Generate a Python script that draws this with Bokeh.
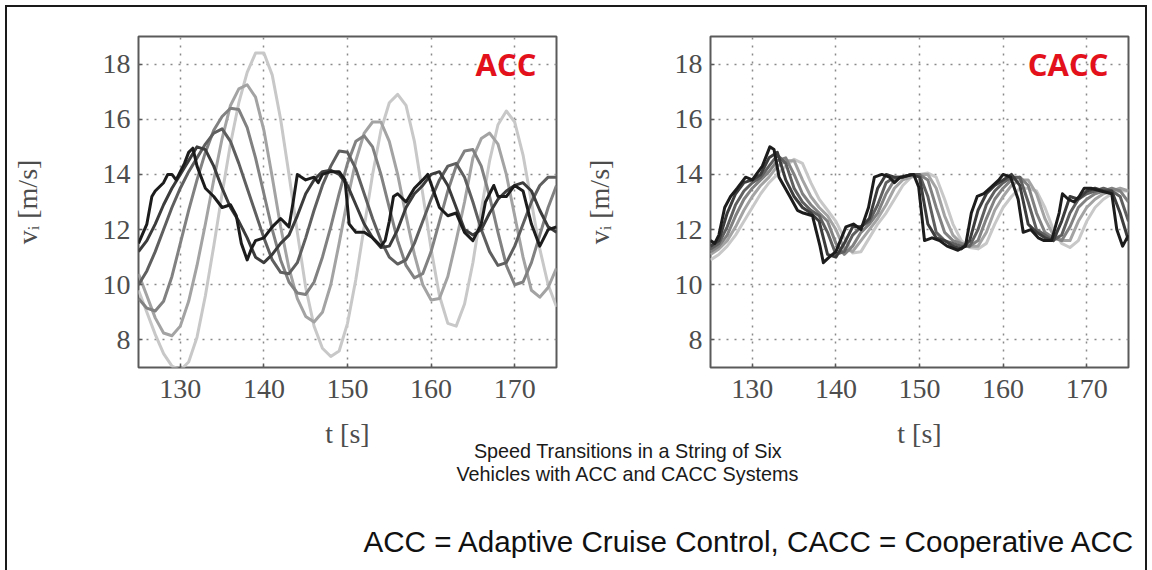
from bokeh.plotting import figure
from bokeh.layouts import row, column
from bokeh.models import Label, Range1d, FixedTicker
from bokeh.embed import file_html
from bokeh.resources import INLINE

# ---------------- data ----------------
x_ticks = [130, 140, 150, 160, 170]
y_ticks = [8, 10, 12, 14, 16, 18]

# ACC: leader (jagged) with its own sample times
acc_lead_t = [125, 126, 126.6, 127, 128, 128.5, 129, 129.5, 130, 130.5,
              131, 131.5, 132, 133, 134, 135, 136, 136.7, 137.3, 138,
              138.5, 139, 140, 141, 142, 143, 143.5, 144, 145, 146,
              146.5, 147, 148, 149, 149.7, 150.2, 151, 152, 153, 154,
              154.5, 155, 155.5, 156, 157, 158, 159, 159.6, 160.3, 161,
              162, 163, 164, 165, 166, 166.5, 167.5, 168, 169, 170,
              171, 172, 173, 174, 175]
acc_lead_v = [11.5, 12.2, 13.2, 13.4, 13.7, 14.0, 14.0, 13.8, 14.1, 14.4,
              14.8, 14.95, 14.3, 13.5, 13.2, 12.8, 12.9, 12.5, 11.5, 10.9,
              11.3, 11.6, 11.7, 12.1, 12.4, 12.1, 13.0, 14.0, 13.8, 13.9,
              13.7, 14.0, 14.1, 14.1, 13.8, 12.2, 11.9, 11.9, 11.7, 11.4,
              11.6, 12.3, 13.2, 13.3, 13.0, 13.5, 13.8, 14.0, 13.4, 12.8,
              12.5, 12.6, 11.9, 11.6, 12.2, 13.0, 13.6, 13.2, 13.2, 13.6,
              13.4, 12.2, 11.4, 12.0, 12.1]

# followers sampled each second from 125 s to 175 s
acc_t = list(range(125, 176))
acc_v2 = [11.2, 11.6, 12.2, 12.9, 13.5, 14.0, 14.5, 15.0, 14.9, 14.3,
          13.5, 12.8, 12.3, 11.7, 11.0, 10.8, 11.1, 11.5, 11.8, 12.5,
          13.3, 13.8, 14.1, 14.15, 14.0, 13.6, 12.9, 12.2, 11.7, 11.35,
          11.4, 12.0, 12.8, 13.3, 13.6, 14.0, 14.1, 13.6, 12.8, 12.0,
          11.8, 12.0, 12.6, 13.1, 13.4, 13.6, 13.7, 13.4, 12.7, 12.1,
          11.9]
acc_v3 = [10.0, 10.5, 11.2, 12.0, 12.8, 13.5, 14.1, 14.6, 15.1, 15.5,
          15.65, 15.2, 14.4, 13.5, 12.6, 11.7, 10.9, 10.45, 10.4, 10.8,
          11.7, 12.7, 13.6, 14.3, 14.85, 14.8, 14.2, 13.3, 12.4, 11.6,
          11.0, 10.75, 10.9, 11.5, 12.3, 13.1, 13.8, 14.3, 14.4, 13.9,
          13.0, 12.0, 11.2, 10.7, 10.8, 11.4, 12.2, 13.0, 13.6, 13.9,
          13.9]
acc_v4 = [9.5, 9.15, 9.05, 9.4, 10.3, 11.5, 12.7, 13.8, 14.8, 15.6,
          16.1, 16.4, 16.35, 15.7, 14.6, 13.3, 12.0, 10.9, 10.1, 9.7,
          9.65, 10.1, 11.0, 12.1, 13.3, 14.4, 15.2, 15.4, 15.0, 14.0,
          12.8, 11.6, 10.7, 10.25, 10.4, 11.2, 12.3, 13.4, 14.3, 14.85,
          14.9, 14.3, 13.2, 11.9, 10.7, 10.0, 10.1, 10.8, 11.8, 12.8,
          13.6]
acc_v5 = [10.4, 9.6, 8.8, 8.25, 8.15, 8.5, 9.4, 10.7, 12.2, 13.8,
          15.3, 16.5, 17.1, 17.25, 16.8, 15.6, 13.9, 12.1, 10.6, 9.5,
          8.85, 8.65, 9.0, 10.0, 11.5, 13.1, 14.5, 15.5, 15.9, 15.9,
          15.2, 14.0, 12.5, 11.1, 10.0, 9.45, 9.5, 10.3, 11.6, 13.0,
          14.6, 15.3, 15.5, 15.1, 14.0, 12.5, 11.0, 9.8, 9.55, 9.9,
          10.6]
acc_v6 = [9.8, 9.0, 8.2, 7.5, 7.05, 6.9, 7.2, 8.1, 9.6, 11.4,
          13.3, 15.1, 16.6, 17.7, 18.4, 18.4, 17.6, 16.0, 14.0, 11.9,
          9.9, 8.5, 7.7, 7.4, 7.6, 8.6, 10.2, 12.1, 14.0, 15.6,
          16.6, 16.9, 16.5, 15.2, 13.3, 11.3, 9.6, 8.6, 8.5, 9.3,
          10.8, 12.7, 14.5, 15.8, 16.3, 15.9, 14.7, 13.0, 11.3, 10.0,
          9.2]

# CACC: leader (jagged) with its own sample times
cacc_lead_t = [125, 125.5, 126, 126.7, 127.4, 128.2, 129.2, 130, 131.2, 132.1,
               132.6, 133.2, 134.5, 135.4, 136.1, 137.2, 138.1, 138.5, 139.2, 140,
               141.2, 142.1, 143, 143.9, 144.6, 145.5, 146.4, 147, 147.7, 149.3,
               149.9, 150.6, 151.5, 152.4, 153.3, 154.6, 155.5, 156.2, 156.9, 157.7,
               158.6, 159.5, 160, 160.9, 161.8, 162.4, 163.3, 164.2, 164.9, 165.8,
               166.7, 167.1, 167.8, 168.5, 169.1, 169.7, 170.5, 171.7, 173, 173.6,
               174.3, 175]
cacc_lead_v = [11.6, 11.5, 11.8, 12.8, 13.2, 13.5, 13.9, 13.8, 14.3, 15.0,
               14.9, 13.9, 13.2, 12.7, 12.6, 12.5, 11.4, 10.8, 11.0, 11.2,
               12.1, 12.2, 12.0, 12.8, 13.9, 14.0, 13.9, 13.7, 13.9, 14.0,
               13.55, 11.6, 11.7, 11.6, 11.4, 11.25, 11.4, 12.6, 13.2, 13.3,
               13.55, 13.8, 14.0, 13.9, 13.1, 11.9, 12.0, 11.7, 11.6, 11.6,
               12.6, 13.3, 13.1, 13.0, 13.2, 13.5, 13.5, 13.4, 13.3, 12.0,
               11.4, 11.8]

cacc_t = list(range(125, 176))
cacc_v2 = [11.4, 11.6, 12.6, 13.3, 13.7, 13.8, 14.0, 14.6, 14.8, 13.8,
           13.2, 12.8, 12.6, 12.3, 11.1, 11.0, 11.5, 12.1, 12.1, 12.4,
           13.5, 14.0, 13.9, 13.9, 14.0, 13.9, 12.2, 11.7, 11.6, 11.4,
           11.3, 11.6, 12.7, 13.3, 13.6, 13.8, 14.0, 13.6, 12.2, 11.9,
           11.7, 11.6, 12.3, 13.2, 13.1, 13.4, 13.5, 13.4, 13.4, 12.6,
           11.6]
cacc_v3 = [11.3, 11.5, 12.1, 12.9, 13.4, 13.7, 13.9, 14.3, 14.7, 14.4,
           13.5, 13.0, 12.7, 12.5, 11.9, 11.1, 11.2, 11.8, 12.1, 12.3,
           12.9, 13.7, 13.9, 13.9, 14.0, 14.0, 13.2, 11.9, 11.6, 11.5,
           11.4, 11.4, 12.0, 12.9, 13.4, 13.7, 13.9, 13.9, 13.0, 12.0,
           11.8, 11.6, 11.8, 12.6, 13.1, 13.3, 13.4, 13.5, 13.4, 13.2,
           12.3]
cacc_v4 = [11.2, 11.4, 11.8, 12.5, 13.1, 13.5, 13.8, 14.1, 14.5, 14.6,
           14.0, 13.3, 12.9, 12.6, 12.3, 11.5, 11.1, 11.4, 11.9, 12.2,
           12.6, 13.3, 13.8, 13.9, 14.0, 14.0, 13.8, 12.8, 11.9, 11.6,
           11.5, 11.4, 11.6, 12.4, 13.1, 13.5, 13.8, 13.9, 13.6, 12.6,
           11.9, 11.7, 11.6, 12.1, 12.8, 13.1, 13.3, 13.4, 13.5, 13.4,
           13.0]
cacc_v5 = [11.1, 11.3, 11.6, 12.1, 12.7, 13.2, 13.6, 13.9, 14.3, 14.5,
           14.5, 13.8, 13.2, 12.8, 12.5, 12.0, 11.3, 11.2, 11.6, 12.0,
           12.4, 12.9, 13.5, 13.8, 13.9, 14.0, 14.0, 13.5, 12.5, 11.8,
           11.5, 11.4, 11.4, 11.9, 12.7, 13.2, 13.6, 13.8, 13.8, 13.3,
           12.4, 11.8, 11.6, 11.6, 12.3, 12.8, 13.1, 13.3, 13.4, 13.5,
           13.4]
cacc_v6 = [10.9, 11.1, 11.4, 11.8, 12.3, 12.8, 13.3, 13.7, 14.0, 14.3,
           14.55, 14.4, 13.7, 13.1, 12.7, 12.3, 11.7, 11.15, 11.2, 11.7,
           12.2, 12.6, 13.1, 13.6, 13.9, 14.0, 14.05, 13.9, 13.1, 12.2,
           11.6, 11.35, 11.3, 11.5, 12.2, 12.8, 13.2, 13.5, 13.5, 13.4,
           12.8, 12.0, 11.5, 11.35, 11.6, 12.3, 12.8, 13.1, 13.3, 13.4,
           13.4]

line_colors = ["#1c1c1c", "#3c3c3c", "#5f5f5f", "#818181", "#a3a3a3", "#c8c8c8"]

SERIF = "Liberation Serif"
TXT = "#4d4d4d"
ROW_H = 445


def make_panel(lead_t, lead_v, t, followers, tag, mb_left, mb_right, width):
    p = figure(width=width, height=ROW_H, x_range=Range1d(125, 175), y_range=Range1d(7, 19),
               output_backend="svg", toolbar_location=None,
               min_border_left=mb_left, min_border_right=mb_right,
               min_border_top=29, min_border_bottom=ROW_H - 360)
    p.background_fill_color = "white"
    p.border_fill_color = "white"
    p.outline_line_color = "#5a5a5a"
    p.outline_line_width = 2
    p.xaxis.ticker = FixedTicker(ticks=x_ticks)
    p.yaxis.ticker = FixedTicker(ticks=y_ticks)
    for ax in (p.xaxis[0], p.yaxis[0]):
        ax.axis_line_color = None
        ax.major_tick_in = 4
        ax.major_tick_out = 0
        ax.major_tick_line_color = "#5a5a5a"
        ax.major_tick_line_width = 1.5
        ax.minor_tick_line_color = None
        ax.major_label_text_font = SERIF
        ax.major_label_text_font_size = "28px"
        ax.major_label_text_color = TXT
        ax.axis_label_text_font = SERIF
        ax.axis_label_text_font_size = "28px"
        ax.axis_label_text_font_style = "normal"
        ax.axis_label_text_color = TXT
    p.xaxis.axis_label = "t [s]"
    p.yaxis.axis_label = "vᵢ [m/s]"
    p.xaxis.major_label_standoff = 12
    p.xaxis.axis_label_standoff = 17
    p.yaxis.major_label_standoff = 8
    p.yaxis.axis_label_standoff = 57
    for g in (p.xgrid[0], p.ygrid[0]):
        g.grid_line_color = "#8a8a8a"
        g.grid_line_width = 1.5
        g.grid_line_dash = "2 6"
    series = list(followers)
    for i in range(len(series) - 1, -1, -1):
        p.line(t, series[i], line_color=line_colors[i + 1], line_width=3,
               line_join="round")
    p.line(lead_t, lead_v, line_color=line_colors[0], line_width=3, line_join="round")
    p.add_layout(Label(x=172.6, y=18.02, text=tag, text_align="right",
                       text_baseline="alphabetic", text_font="Open Sans",
                       text_font_style="bold", text_font_size="31px",
                       text_color="#e3111b"))
    return p


p1 = make_panel(acc_lead_t, acc_lead_v, acc_t,
                [acc_v2, acc_v3, acc_v4, acc_v5, acc_v6], "ACC", 131, 24, 573)
p2 = make_panel(cacc_lead_t, cacc_lead_v, cacc_t,
                [cacc_v2, cacc_v3, cacc_v4, cacc_v5, cacc_v6], "CACC", 130, 17, 565)

P3_H = 563 - ROW_H
p3 = figure(width=1138, height=P3_H, x_range=Range1d(0, 1138), y_range=Range1d(0, P3_H),
            x_axis_type=None, y_axis_type=None, output_backend="svg",
            toolbar_location=None, min_border=0,
            styles={"position": "relative", "top": "-12px"})
p3.outline_line_color = None
p3.grid.visible = False
p3.background_fill_color = None
p3.border_fill_color = None
for txt, yy in (("Speed Transitions in a String of Six", 108),
                ("Vehicles with ACC and CACC Systems", 85)):
    p3.add_layout(Label(x=620.5, y=yy, text=txt, text_align="center",
                        text_baseline="alphabetic", text_font="Liberation Sans",
                        text_font_size="19.8px", text_color="#1a1a1a"))
p3.add_layout(Label(x=1129, y=17, text="ACC = Adaptive Cruise Control, CACC = Cooperative ACC",
                    text_align="right", text_baseline="alphabetic",
                    text_font="Liberation Sans", text_font_size="29.6px",
                    text_color="#111111"))

layout = column(row(p1, p2), p3,
                styles={"border-left": "2px solid #1a1a1a",
                        "border-top": "2px solid #1a1a1a",
                        "border-right": "2px solid #1a1a1a",
                        "margin-left": "5px", "margin-top": "5px"})

open("out.html", "w").write(file_html(layout, INLINE))
